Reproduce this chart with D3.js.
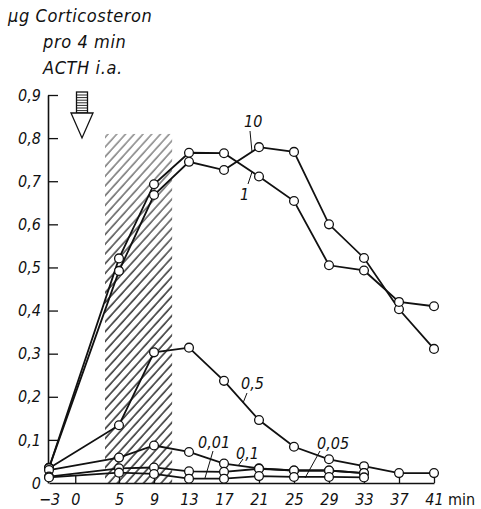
<!DOCTYPE html>
<html><head><meta charset="utf-8">
<script src="https://cdn.jsdelivr.net/npm/d3@7"></script>
<style>
html,body{margin:0;padding:0;background:#fff;}
svg{display:block;}
text{font-family:"DejaVu Sans Condensed","Liberation Sans Narrow","DejaVu Sans",sans-serif;fill:#111;}
</style></head>
<body>
<svg id="c" width="481" height="509"></svg>
<script>
// ---- data ----
const times = [-3, 5, 9, 13, 17, 21, 25, 29, 33, 37, 41];
const s10  = [0.035, 0.492, 0.668, 0.745, 0.726, 0.779, 0.768, 0.600, 0.522, 0.403, 0.311];
const s1   = [0.035, 0.521, 0.693, 0.766, 0.765, 0.711, 0.654, 0.505, 0.493, 0.420, 0.410];
const s05  = [0.034, 0.134, 0.303, 0.314, 0.237, 0.146, 0.084, 0.055, 0.039, 0.023, 0.023];
const s01  = [0.030, 0.059, 0.087, 0.072, 0.045, 0.034, 0.029, 0.029, 0.023];
const s005 = [0.015, 0.034, 0.036, 0.027, 0.026, 0.033, 0.029, 0.029, 0.023];
const s001 = [0.013, 0.024, 0.021, 0.010, 0.010, 0.016, 0.014, 0.014, 0.013];
const seriesNames = ["10", "1", "0,5", "0,1", "0,05", "0,01"];
const xTicks = [-3, 0, 5, 9, 13, 17, 21, 25, 29, 33, 37, 41];
const yTicks = [0, 0.1, 0.2, 0.3, 0.4, 0.5, 0.6, 0.7, 0.8, 0.9];
const acthStart = 3.4, acthEnd = 11.1, acthTop = 0.81;
const titleLines = ["µg Corticosteron", "pro 4 min", "ACTH i.a."];

const svg = d3.select("#c");
const x = d3.scaleLinear().domain([-3, 41]).range([49, 434]);
const y = d3.scaleLinear().domain([0, 0.9]).range([483, 95]);

// hatch pattern + fade mask
const defs = svg.append("defs");
const pat = defs.append("pattern").attr("id","hatch").attr("patternUnits","userSpaceOnUse")
  .attr("width",6.5).attr("height",10).attr("patternTransform","rotate(42)");
pat.append("line").attr("x1",1).attr("y1",0).attr("x2",1).attr("y2",10)
  .attr("stroke","#000").attr("stroke-width",1.25);
const grad = defs.append("linearGradient").attr("id","fade").attr("x1",0).attr("y1",0).attr("x2",0).attr("y2",1);
grad.append("stop").attr("offset","0").attr("stop-color","#fff").attr("stop-opacity",0.55);
grad.append("stop").attr("offset","0.45").attr("stop-color","#fff").attr("stop-opacity",1);
grad.append("stop").attr("offset","1").attr("stop-color","#fff").attr("stop-opacity",1);
const mask = defs.append("mask").attr("id","m");
mask.append("rect").attr("x",x(acthStart)).attr("y",y(acthTop))
  .attr("width",x(acthEnd)-x(acthStart)).attr("height",y(0)-y(acthTop)).attr("fill","url(#fade)");

svg.append("rect").attr("x",x(acthStart)).attr("y",y(acthTop))
  .attr("width",x(acthEnd)-x(acthStart)).attr("height",y(0)-y(acthTop))
  .attr("fill","url(#hatch)").attr("mask","url(#m)");

// axes
const fmt = d => d === 0 ? "0" : d3.format(".1f")(d).replace(".", ",");
const yAxis = svg.append("g").attr("transform",`translate(${x(-3)-1},0)`)
  .call(d3.axisLeft(y).tickValues(yTicks).tickFormat(fmt).tickSize(-10).tickSizeOuter(0).tickPadding(7));
const xAxis = svg.append("g").attr("transform",`translate(0,${y(0)})`)
  .call(d3.axisBottom(x).tickValues(xTicks).tickFormat(d => d < 0 ? "\u22123" : String(d)).tickSize(-8).tickSizeOuter(0).tickPadding(12));
[yAxis, xAxis].forEach(g => {
  g.select(".domain").attr("stroke","#111").attr("stroke-width",1.6);
  g.selectAll(".tick line").attr("stroke","#111").attr("stroke-width",1.3);
  g.selectAll(".tick text").attr("font-size",16).attr("font-style","italic")
   .attr("font-family","'DejaVu Sans Condensed','Liberation Sans Narrow',sans-serif").attr("fill","#111");
});
yAxis.selectAll(".tick").filter(d => d === 0).select("line").remove();
xAxis.selectAll(".tick").filter(d => d === -3).select("line").remove();
xAxis.selectAll(".tick text").attr("dy","0.6em");
svg.append("text").attr("x", x(41)+14).attr("y", 505).attr("font-size",16)
  .attr("font-family","'Liberation Sans','DejaVu Sans',sans-serif").text("min");

// title
const tg = svg.append("g").attr("font-style","italic").attr("font-size",18);
tg.append("text").attr("x",8).attr("y",22).attr("letter-spacing",0.6).text(titleLines[0]);
tg.append("text").attr("x",43).attr("y",48).attr("letter-spacing",0.6).text(titleLines[1]);
tg.append("text").attr("x",43).attr("y",74).attr("letter-spacing",0.6).text(titleLines[2]);

// arrow
const ag = svg.append("g").attr("stroke","#111").attr("fill","#fff").attr("stroke-width",1.3);
const ax = 82;
ag.append("rect").attr("x",ax-5.5).attr("y",92).attr("width",11).attr("height",21);
d3.range(95, 113, 2.6).forEach(yy => ag.append("line").attr("x1",ax-5.5).attr("x2",ax+5.5).attr("y1",yy).attr("y2",yy).attr("stroke-width",0.9));
ag.append("path").attr("d",`M${ax-11},113 L${ax+11},113 L${ax},138 Z`);

// series
const all = [s10, s1, s05, s01, s005, s001];
const line = d3.line().x(d => x(d.t)).y(d => y(d.v));
const sg = svg.append("g");
all.forEach(s => {
  const pts = s.map((v,i) => ({t: times[i], v}));
  sg.append("path").datum(pts).attr("d", line).attr("fill","none").attr("stroke","#111").attr("stroke-width",1.8);
});
all.forEach(s => {
  const pts = s.map((v,i) => ({t: times[i], v}));
  sg.selectAll(null).data(pts).enter().append("circle")
    .attr("cx", d => x(d.t)).attr("cy", d => y(d.v)).attr("r", 4.4)
    .attr("fill","#fff").attr("stroke","#111").attr("stroke-width",1.3);
});

// labels with leaders
const lab = svg.append("g").attr("font-style","italic").attr("font-size",16);
const labels = [
  {n:0, tx:244, ty:127, l:[250,131,252,152]},
  {n:1, tx:240, ty:200, l:[252,172,248,184]},
  {n:2, tx:241, ty:389, l:[247,393,243,403]},
  {n:3, tx:236, ty:459, l:[243,459,238,466]},
  {n:4, tx:317, ty:449, l:[320,451,305,478]},
  {n:5, tx:198, ty:448, l:[213,451,205,478]}
];
labels.forEach(o => {
  lab.append("text").attr("x",o.tx).attr("y",o.ty).text(seriesNames[o.n]);
  svg.append("line").attr("x1",o.l[0]).attr("y1",o.l[1]).attr("x2",o.l[2]).attr("y2",o.l[3])
    .attr("stroke","#111").attr("stroke-width",1);
});
</script>
</body></html>
